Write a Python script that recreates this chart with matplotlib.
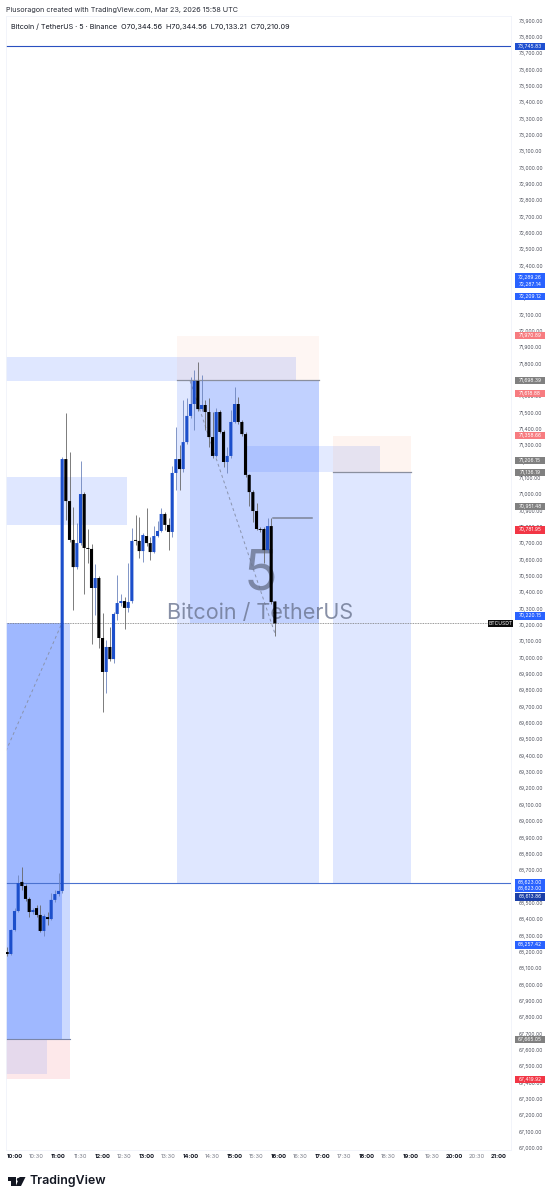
import numpy as np
import matplotlib
matplotlib.use('Agg')
from matplotlib import pyplot as plt
from matplotlib.patches import Polygon, Rectangle

plt.rcParams['font.family'] = ['Inter', 'DejaVu Sans']

# candles, bar index 0 = 10:00
opens = [68199,68187,68334,68450,68628,68603,68524,68444,68468,68426,68328,68413,68401,68518,68554,68573,
         71216,70959,70721,70555,70702,71002,70672,70666,70427,70488,70121,69913,70066,69992,70268,70335,
         70347,70305,70347,70721,70715,70653,70745,70702,70647,70745,70776,70880,70813,70770,71131,71216,
         71155,71320,71480,71553,71694,71522,71547,71504,71351,71235,71504,71382,71198,71235,71443,71553,
         71443,71369,71119,71014,70898,70788,70788,70659,70806,70344.56]
highs = [68230,68340,68468,68670,68719,68615,68536,68468,68487,68487,68432,68444,68560,68579,68683,71229,
         71498,71259,70923,70825,71204,71014,70788,70696,70574,70500,70274,70109,70188,70280,70507,70390,
         70372,70580,70794,70874,70861,70763,70917,70739,70806,70837,70917,70892,70855,71174,71412,71302,
         71577,71590,71718,71761,71810,71730,71577,71590,71504,71529,71516,71394,71290,71516,71657,71596,
         71455,71382,71125,71027,70947,70800,70800,70855,70855,70344.56]
lows = [68175,68181,68328,68444,68579,68511,68413,68432,68413,68322,68297,68364,68395,68505,68542,68560,
        70843,70708,70292,70543,70690,70390,70580,70084,70262,70060,69668,69784,69980,69968,70231,70317,
        70176,70280,70335,70690,70611,70586,70684,70598,70641,70739,70770,70782,70659,70739,71027,71027,
        71137,71308,71467,71394,71510,71510,71394,71290,71222,71229,71376,71167,71131,71222,71437,71431,
        71357,71106,70929,70831,70782,70770,70580,70647,70329,70133.21]
closes = [68187,68334,68450,68621,68603,68524,68444,68456,68426,68328,68419,68401,68518,68554,68573,71216,
          70959,70721,70555,70702,71002,70672,70666,70427,70488,70121,69913,70066,69992,70268,70335,70347,
          70305,70341,70715,70715,70653,70751,70702,70647,70745,70776,70880,70813,70770,71131,71216,71155,
          71320,71480,71553,71694,71522,71547,71504,71351,71235,71504,71382,71198,71235,71443,71553,71443,
          71369,71119,71014,70898,70788,70782,70659,70806,70341,70210.09]

price_ticks = np.arange(67000, 73901, 100)
time_labels = ['10:00','10:30','11:00','11:30','12:00','12:30','13:00','13:30','14:00','14:30','15:00',
               '15:30','16:00','16:30','17:00','17:30','18:00','18:30','19:00','19:30','20:00','20:30','21:00']

# zones: bar start, bar end, price low, price high, colour, alpha
zone_x0 = [-2.32, -2.32, -2.32, -2.32, -2.32, -2.32, 44.3, 44.3, 47.9, 62.9, 86.9, 86.9]
zone_x1 = [15.1, 12.95, 15.1, 8.9, 76.8, 30.7, 83.0, 83.0, 83.0, 99.7, 108.1, 108.1]
zone_lo = [67667, 67667, 67422, 67453, 71694, 70813, 71694, 68615, 70213, 71137, 71137, 68615]
zone_hi = [70213, 70213, 67667, 67667, 71841, 71106, 71969, 71694, 71694, 71296, 71357, 71137]
zone_col = ['#2962ff','#2962ff','#f23645','#2962ff','#2962ff','#2962ff','#f7a27c','#2962ff','#2962ff','#2962ff','#f7a27c','#2962ff']
zone_alpha = [.24, .27, .11, .11, .15, .15, .09, .15, .16, .13, .11, .15]

# side labels on the price axis
tag_values = [73745.83,72289.26,72287.14,72209.12,71970.89,71698.39,71618.88,71358.66,71206.15,71136.19,
              70951.48,70781.95,70220.15,68623.00,68623.00,68613.86,68257.42,67665.05,67419.92]
tag_colors = ['#1e4fd0','#2962ff','#2962ff','#2962ff','#f77c80','#808080','#f77c80','#f77c80','#808080','#808080',
              '#808080','#f23645','#2962ff','#2962ff','#2962ff','#1a3fa8','#2962ff','#808080','#f23645']
tag_shift = [-1,6.7,0,0,0,0,0,0,0,0,-4,0,5.8,0.5,-5.5,-12.7,-2.5,0,0]

fig = plt.figure(figsize=(5.54,12),dpi=100)
W,H = 554.0,1200.0
ax = fig.add_axes([6/W,1-1150/H,505/W,1134/H])
ax.set_xlim(-2.32,135.4)
ax.set_ylim(66987.5,73927.6)

for x0,x1,lo,hi,c,a in zip(zone_x0,zone_x1,zone_lo,zone_hi,zone_col,zone_alpha):
    ax.fill_between([x0,x1],lo,hi,color=c,alpha=a,lw=0,zorder=1)

# level lines
ax.axhline(73745.83,color='#2a50c0',lw=0.8,zorder=2)
ax.axhline(68623,color='#4a72d0',lw=0.8,zorder=2)
ax.plot([-2.32,15.1],[67665,67665],color='#7b86a8',lw=0.8,zorder=2)
ax.plot([44.3,83],[71698,71698],color='#8a8f9e',lw=0.9,zorder=2)
ax.plot([86.9,108.1],[71136,71136],color='#8a8f9e',lw=0.9,zorder=2)
ax.plot([70.5,81.1],[70855,70855],color='#7d8497',lw=1.1,zorder=2)
ax.plot([-2.32,12.95],[69430,70213],color='#8a93ad',lw=0.7,ls=(0,(3,3)),zorder=2)
ax.plot([47.9,71],[71694,70150],color='#8a93ad',lw=0.7,ls=(0,(3,3)),zorder=2)
ax.plot([-2.32,129],[70210,70210],color='#777777',lw=0.6,ls=(0,(1,1)),zorder=2)

# watermark
ax.text(67,70510,'5',fontsize=40,color='#6b7590',alpha=.8,ha='center',va='center',zorder=3)
ax.text(67,70273,'Bitcoin / TetherUS',fontsize=15.5,color='#6b7590',alpha=.8,ha='center',va='center',zorder=3)

# candles
idx = np.arange(-2,len(opens)-2)
o,h,l,c = map(np.array,(opens,highs,lows,closes))
up = c>=o
ax.vlines(idx[up],l[up],h[up],color='#6d84bd',lw=0.6,zorder=4)
ax.vlines(idx[~up],l[~up],h[~up],color='#666666',lw=0.6,zorder=4)
ax.bar(idx[up],(c-o)[up],bottom=o[up],width=.85,color='#1c4fcb',lw=0,zorder=5,snap=False)
ax.bar(idx[~up],(c-o)[~up],bottom=o[~up],width=.85,color='#000000',lw=0,zorder=5,snap=False)

# axes
for s in ax.spines.values():
    s.set_color('#f0f3fa')
    s.set_linewidth(0.6)
ax.yaxis.tick_right()
ax.set_yticks(price_ticks)
ax.set_yticklabels(['{:,.2f}'.format(p) for p in price_ticks],fontsize=3.6,color='#50535e')
ax.tick_params(axis='y',length=0,pad=5.5)
ax.set_xticks(np.arange(len(time_labels))*6)
ax.set_xticklabels(time_labels,fontsize=4.2)
ax.tick_params(axis='x',length=0,pad=3)
for i,t in enumerate(ax.get_xticklabels()):
    if i%2==0:
        t.set_fontweight('bold')
        t.set_color('#131722')
    else:
        t.set_color('#787b86')

# price tags sit over the tick labels
for v,col,sh in zip(tag_values,tag_colors,tag_shift):
    py = ax.transData.transform((0,v))[1]+sh
    fig.add_artist(Rectangle((515/W,(py-3.6)/H),30/W,7.2/H,transform=fig.transFigure,fc=col,ec='none',zorder=10))
    fig.text(530/W,py/H,'{:,.2f}'.format(v),fontsize=3.6,color='white',ha='center',va='center',zorder=11)
py = ax.transData.transform((0,70210))[1]
fig.add_artist(Rectangle((488/W,(py-3.7)/H),25/W,7.4/H,transform=fig.transFigure,fc='#0b0b0b',ec='none',zorder=10))
fig.text(500.5/W,py/H,'BTCUSDT',fontsize=3.6,color='white',ha='center',va='center',zorder=11)

# header
fig.text(6/W,1-10/H,'Piusoragon created with TradingView.com, Mar 23, 2026 15:58 UTC',fontsize=5.2,color='#2a2e39',va='center')
fig.text(11/W,1-26.5/H,'Bitcoin / TetherUS · 5 · Binance  O70,344.56  H70,344.56  L70,133.21  C70,210.09',fontsize=5.2,color='#131722',va='center')

# logo
logo_t = [(7.5,1177),(15.5,1177),(15.5,1186),(11,1186),(11,1180.5),(7.5,1180.5)]
logo_s = [(19.5,1177),(25.5,1177),(21,1186),(15.8,1186)]
for pts in (logo_t,logo_s):
    fig.add_artist(Polygon([(x/W,1-y/H) for x,y in pts],transform=fig.transFigure,fc='#131722',ec='none'))
fig.add_artist(plt.Line2D([17.6/W],[1-1178.8/H],marker='o',ms=2.4,color='#131722',mew=0,transform=fig.transFigure))
fig.text(30/W,1-1181/H,'TradingView',fontsize=8.9,fontweight='semibold',color='#131722',va='center')

fig.savefig('out.png',dpi=100)
